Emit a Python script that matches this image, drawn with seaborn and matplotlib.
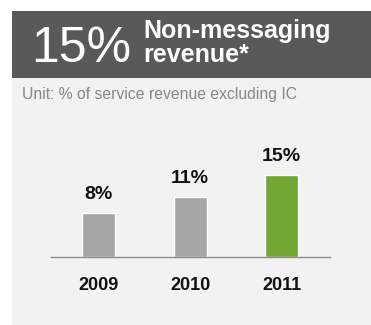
import matplotlib
matplotlib.use("Agg")
import matplotlib.pyplot as plt
import seaborn as sns
import pandas as pd
from matplotlib.patches import Rectangle

years = ["2009", "2010", "2011"]
shares = [8, 11, 15]
bar_colors = ["#a6a6a6", "#a6a6a6", "#72a534"]
headline = "15%"
title = "Non-messaging\nrevenue*"
subtitle = "Unit: % of service revenue excluding IC"

sns.set_theme(style="white")
plt.rcParams["font.family"] = ["Liberation Sans", "DejaVu Sans"]

W, H = 371, 325
fig = plt.figure(figsize=(W / 100, H / 100), dpi=100)
fig.patch.set_facecolor("white")

# panel backgrounds (figure pixel coordinates, measured from the top)
def px_rect(x0, y0_top, x1, y1_top, color):
    fig.patches.append(Rectangle((x0 / W, 1 - y1_top / H), (x1 - x0) / W,
                                 (y1_top - y0_top) / H, transform=fig.transFigure,
                                 facecolor=color, edgecolor="none", zorder=-5))

px_rect(12, 78, W, H, "#f2f2f2")
px_rect(12, 11, W, 78, "#595959")

fig.text(31 / W, 1 - 62 / H, headline, color="white", fontsize=36,
         ha="left", va="baseline")
fig.text(143 / W, 1 - 62 / H, title, color="white", fontsize=18,
         fontweight="bold", ha="left", va="baseline", linespacing=0.98)
fig.text(22 / W, 1 - 99 / H, subtitle, color="#878787", fontsize=11.3,
         ha="left", va="baseline")

# bar chart area
ax_left, ax_right, ax_top, ax_base = 51, 330, 140, 257.3
ax = fig.add_axes([ax_left / W, 1 - ax_base / H, (ax_right - ax_left) / W,
                   (ax_base - ax_top) / H])
ax.set_zorder(2)
ax.set_facecolor("none")

df = pd.DataFrame({"year": years, "share": shares})
sns.barplot(data=df, x="year", y="share", hue="year", palette=bar_colors,
            width=0.36, legend=False, ax=ax, saturation=1)

ax.set_xlim(-0.52, 2.53)
ax.set_ylim(0, (ax_base - ax_top) / 5.52)
for c in ax.containers:
    ax.bar_label(c, labels=[f"{v:g}%" for v in c.datavalues], padding=7,
                 fontsize=14, fontweight="bold", color="#111111")

for s in ["top", "right", "left"]:
    ax.spines[s].set_visible(False)
ax.spines["bottom"].set_color("#8c8c8c")
ax.spines["bottom"].set_linewidth(1.0)
ax.set_yticks([])
ax.set_xlabel("")
ax.set_ylabel("")
ax.tick_params(axis="x", length=0, pad=14, labelsize=13)
for lab in ax.get_xticklabels():
    lab.set_fontweight("bold")
    lab.set_color("#111111")

fig.savefig("out.png", dpi=100, facecolor="white")
